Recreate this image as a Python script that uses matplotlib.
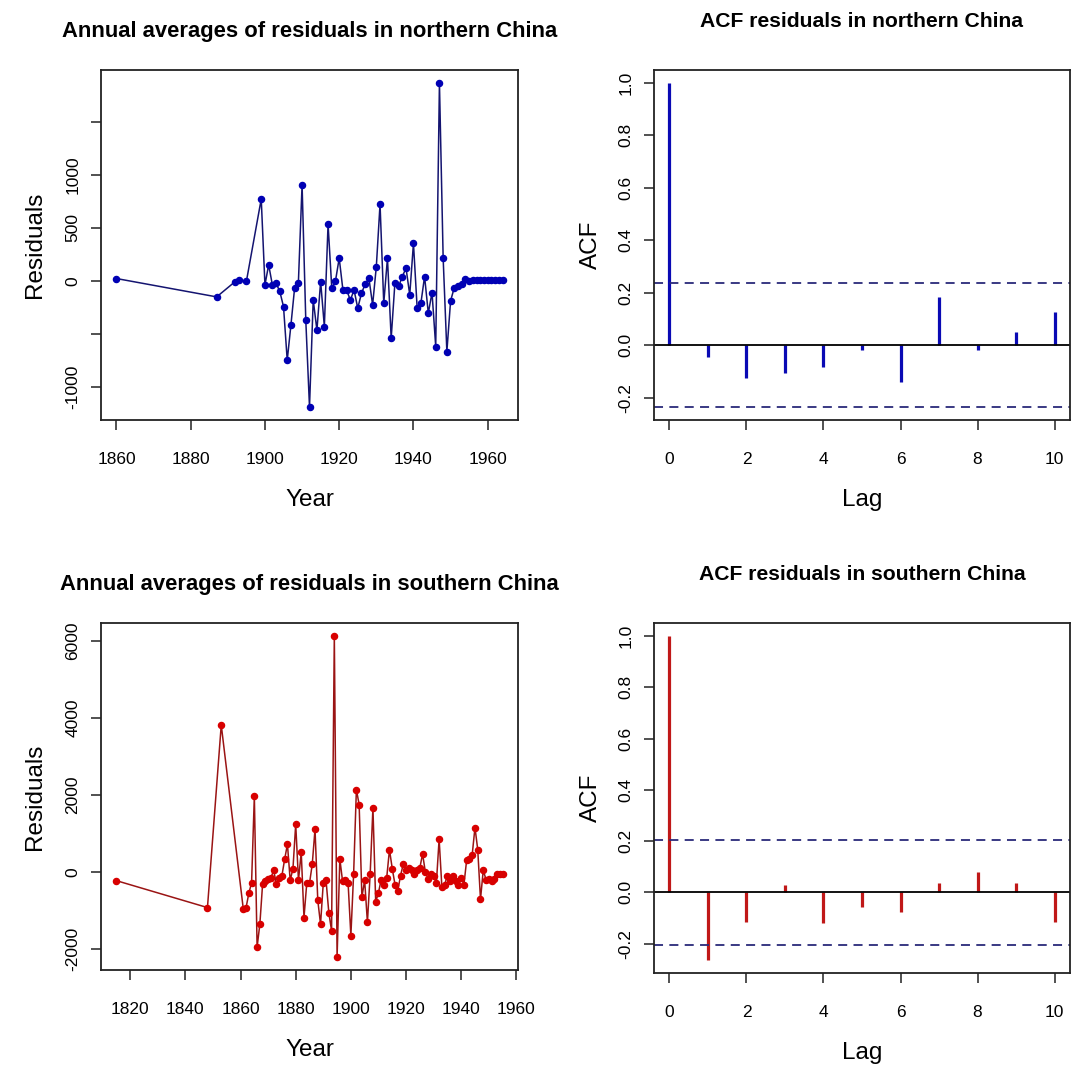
import matplotlib
matplotlib.use("Agg")
import matplotlib.pyplot as plt
import numpy as np

plt.rcParams['font.family'] = ['Liberation Sans', 'DejaVu Sans']

# ---- data ----
north_years = [1860, 1887, 1892, 1893, 1895] + list(range(1899, 1965))
north_resid = [22, -151, -6, 10, -5,
               771, -38, 151, -38, -22, -100, -242, -748, -415, -63,
               -22, 906, -371, -1189, -179, -465, -6, -431, 535, -69,
               0, 214, -85, -85, -182, -85, -258, -116, -31, 25,
               -226, 135, 723, -211, 214, -541, -22, -53, 41, 120,
               -132, 355, -258, -211, 41, -305, -110, -619, 1865, 214,
               -667, -189, -63, -47, -31, 16, 0, 5, 8, 10,
               10, 10, 10, 10, 10, 10]

south_years = [1815, 1848, 1853] + list(range(1861, 1956))
south_resid = [-230, -930, 3820,
               -970, -930, -560, -280, 1970, -1960, -1360, -310, -250, -180,
               -155, 35, -310, -160, -100, 330, 720, -220, 80, 1240,
               -220, 510, -1190, -300, -300, 200, 1110, -740, -1360, -290,
               -220, -1060, -1530, 6140, -2220, 335, -250, -200, -300, -1660,
               -52, 2140, 1750, -654, -225, -1316, -52, 1669, -783, -545,
               -200, -330, -150, 576, 86, -330, -499, -100, 200, 50,
               100, 50, -69, 50, 100, 465, 0, -180, -50, -100,
               -300, 852, -400, -330, -100, -250, -100, -250, -350, -150,
               -330, 318, 330, 450, 1153, 580, -714, 40, -200, -180,
               -250, -180, -60, -50, -50]

lags = list(range(0, 11))
north_acf = [1.0, -0.045, -0.127, -0.108, -0.083, -0.019, -0.14, 0.185, -0.019, 0.051, 0.127]
south_acf = [1.0, -0.264, -0.114, 0.029, -0.121, -0.056, -0.075, 0.035, 0.081, 0.035, -0.114]
north_ci = 0.236
south_ci = 0.204

W, H = 1071, 1068
fig = plt.figure(figsize=(W / 100, H / 100), dpi=100)


def box(l, t, r, b):
    # pixel box -> figure fraction
    return [l / W, 1 - b / H, (r - l) / W, (b - t) / H]


def style(ax):
    for s in ax.spines.values():
        s.set_linewidth(1.3)
        s.set_color('#222222')
    ax.tick_params(length=7, width=1.1, color='#222222', labelsize=12.5)
    ax.tick_params(axis='x', pad=16)
    ax.tick_params(axis='y', pad=8, labelrotation=90)
    for lab in ax.get_yticklabels():
        lab.set_va('center')


def ts_panel(rect, years, vals, line_c, mark_c, title, xticks, yticks, ylabels):
    ax = fig.add_axes(box(*rect))
    ax.plot(years, vals, '-', color=line_c, lw=1.1)
    ax.plot(years, vals, 'o', color=mark_c, ms=4.4, mec=mark_c)
    span = max(years) - min(years)
    ax.set_xlim(min(years) - 0.04 * span, max(years) + 0.04 * span)
    yspan = max(vals) - min(vals)
    ax.set_ylim(min(vals) - 0.04 * yspan, max(vals) + 0.04 * yspan)
    ax.set_xticks(xticks)
    ax.set_yticks(yticks)
    ax.set_yticklabels(ylabels)
    style(ax)
    ax.set_xlabel('Year', fontsize=17.5, labelpad=16)
    ax.set_ylabel('Residuals', fontsize=17.5, labelpad=14)
    ax.set_title(title, fontsize=15.8, fontweight='bold', pad=24)
    return ax


def acf_panel(rect, acf, ci, bar_c, title):
    ax = fig.add_axes(box(*rect))
    ax.vlines(lags, 0, acf, color=bar_c, lw=2.3)
    ax.axhline(0, color='black', lw=1.3)
    ax.axhline(ci, color='#2a2a7a', lw=1.3, ls=(0, (5, 3.5)))
    ax.axhline(-ci, color='#2a2a7a', lw=1.3, ls=(0, (5, 3.5)))
    ax.set_xlim(-0.4, 10.4)
    lo = min(min(acf), -ci)
    ax.set_ylim(lo - 0.04 * (1 - lo), 1 + 0.04 * (1 - lo))
    ax.set_xticks(range(0, 11, 2))
    ax.set_yticks([-0.2, 0.0, 0.2, 0.4, 0.6, 0.8, 1.0])
    ax.set_yticklabels(['-0.2', '0.0', '0.2', '0.4', '0.6', '0.8', '1.0'])
    style(ax)
    ax.set_xlabel('Lag', fontsize=17.5, labelpad=16)
    ax.set_ylabel('ACF', fontsize=17.5, labelpad=12)
    ax.set_title(title, fontsize=15.2, fontweight='bold', pad=31)
    return ax


ts_panel((101, 70, 518, 420), north_years, north_resid, '#141470', '#0000b4',
         'Annual averages of residuals in northern China',
         [1860, 1880, 1900, 1920, 1940, 1960],
         [-1000, -500, 0, 500, 1000, 1500],
         ['-1000', '', '0', '500', '1000', ''])

ts_panel((101, 623, 518, 970), south_years, south_resid, '#9a1414', '#d80000',
         'Annual averages of residuals in southern China',
         [1820, 1840, 1860, 1880, 1900, 1920, 1940, 1960],
         [-2000, 0, 2000, 4000, 6000],
         ['-2000', '0', '2000', '4000', '6000'])

acf_panel((654, 70, 1070, 420), north_acf, north_ci, '#0a0ab4',
          'ACF residuals in northern China')
acf_panel((654, 623, 1070, 973), south_acf, south_ci, '#c01818',
          'ACF residuals in southern China')

fig.savefig('out.png', dpi=100, facecolor='white')
